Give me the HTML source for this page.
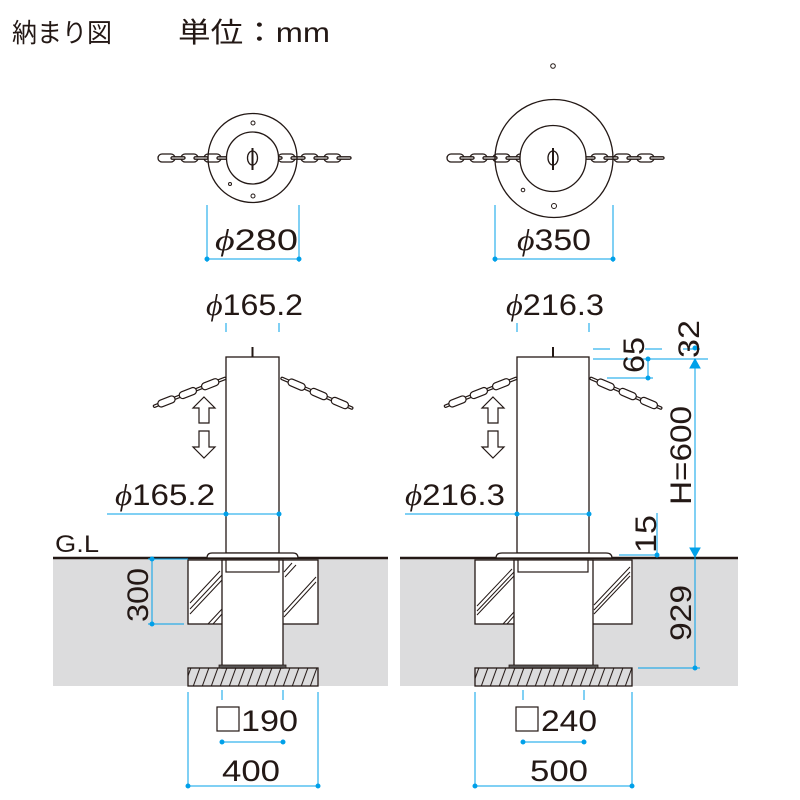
<!DOCTYPE html>
<html><head><meta charset="utf-8"><style>
html,body{margin:0;padding:0;background:#fff}
svg{display:block}
text{font-family:"Liberation Sans","Noto Sans CJK JP",sans-serif;fill:#231815}
</style></head><body>
<svg width="800" height="800" viewBox="0 0 800 800" xmlns="http://www.w3.org/2000/svg">
<defs>
<g id="chainH">
 <g fill="#fff" stroke="#231815" stroke-width="1.3">
  <rect x="0" y="-4" width="17" height="8" rx="4"/>
  <rect x="23" y="-4" width="17" height="8" rx="4"/>
  <rect x="46" y="-4" width="17" height="8" rx="4"/>
  <rect x="69" y="-4" width="17" height="8" rx="4"/>
  <rect x="13" y="-1.2" width="14" height="2.4" rx="1.2"/>
  <rect x="36" y="-1.2" width="14" height="2.4" rx="1.2"/>
  <rect x="59" y="-1.2" width="14" height="2.4" rx="1.2"/>
  <rect x="82" y="-1.2" width="14" height="2.4" rx="1.2"/>
 </g>
</g>
<g id="chainS">
 <g fill="#fff" stroke="#231815" stroke-width="1.2">
  <rect x="0" y="-1.2" width="12" height="2.4" rx="1.2"/>
  <rect x="24" y="-1.2" width="12" height="2.4" rx="1.2"/>
  <rect x="48" y="-1.2" width="12" height="2.4" rx="1.2"/>
  <rect x="68" y="-1.2" width="10" height="2.4" rx="1.2"/>
  <rect x="8" y="-3.5" width="18" height="7" rx="3.5"/>
  <rect x="32" y="-3.5" width="18" height="7" rx="3.5"/>
  <rect x="55" y="-3.5" width="18" height="7" rx="3.5"/>
 </g>
</g>
<pattern id="hatch" width="9" height="18" patternUnits="userSpaceOnUse" patternTransform="skewX(-20)">
 <line x1="2" y1="0" x2="2" y2="18" stroke="#231815" stroke-width="1.1"/>
</pattern>
</defs>

<text x="12" y="42" font-size="26" textLength="100" lengthAdjust="spacingAndGlyphs">納まり図</text>
<text x="178" y="42" font-size="28" textLength="152" lengthAdjust="spacingAndGlyphs">単位：mm</text>

<rect x="53" y="558" width="335" height="128" fill="#dcdcdd"/>
<rect x="400" y="558" width="338" height="128" fill="#dcdcdd"/>
<line x1="53" y1="558" x2="388" y2="558" stroke="#231815" stroke-width="2.5"/>
<line x1="400" y1="558" x2="738" y2="558" stroke="#231815" stroke-width="2.5"/>
<text x="55" y="552" font-size="24" textLength="44" lengthAdjust="spacingAndGlyphs">G.L</text>

<use href="#chainH" x="158" y="158"/>
<use href="#chainH" x="255" y="158"/>
<circle cx="252.5" cy="158" r="44.5" fill="none" stroke="#231815" stroke-width="1.3"/>
<circle cx="252.5" cy="158" r="26" fill="#fff" stroke="#231815" stroke-width="1.3"/>
<ellipse cx="252.5" cy="158" rx="5" ry="7" fill="none" stroke="#231815" stroke-width="1.3"/>
<line x1="252.5" y1="148" x2="252.5" y2="170" stroke="#231815" stroke-width="2"/>
<circle cx="253" cy="123" r="2" fill="none" stroke="#231815"/>
<circle cx="230" cy="184" r="1.5" fill="none" stroke="#231815"/>
<circle cx="253" cy="196" r="2" fill="none" stroke="#231815"/>

<use href="#chainH" x="447" y="158"/>
<use href="#chainH" x="568" y="158"/>
<circle cx="554" cy="158.5" r="59" fill="none" stroke="#231815" stroke-width="1.3"/>
<circle cx="553" cy="158.5" r="33" fill="#fff" stroke="#231815" stroke-width="1.3"/>
<ellipse cx="553" cy="158" rx="5" ry="7" fill="none" stroke="#231815" stroke-width="1.3"/>
<line x1="553" y1="148" x2="553" y2="170" stroke="#231815" stroke-width="2"/>
<circle cx="523" cy="190" r="1.8" fill="none" stroke="#231815"/>
<circle cx="554" cy="206" r="2.5" fill="none" stroke="#231815"/>
<circle cx="553" cy="66" r="2.3" fill="none" stroke="#231815"/>

<g stroke="#00a0e9" stroke-width="1" fill="#00a0e9">
 <line x1="207" y1="205" x2="207" y2="262"/><line x1="299" y1="205" x2="299" y2="262"/>
 <line x1="207" y1="259" x2="299" y2="259"/>
 <circle cx="207" cy="259" r="2"/><circle cx="299" cy="259" r="2"/>
 <line x1="495" y1="205" x2="495" y2="262"/><line x1="613" y1="205" x2="613" y2="262"/>
 <line x1="495" y1="259" x2="613" y2="259"/>
 <circle cx="495" cy="259" r="2"/><circle cx="613" cy="259" r="2"/>
</g>
<text x="215" y="250" font-size="30" textLength="83" lengthAdjust="spacingAndGlyphs"><tspan font-family="Liberation Serif" font-style="italic">ϕ</tspan>280</text>
<text x="517" y="250" font-size="30" textLength="74" lengthAdjust="spacingAndGlyphs"><tspan font-family="Liberation Serif" font-style="italic">ϕ</tspan>350</text>

<use href="#chainS" transform="translate(226,378) rotate(158.5)"/>
<use href="#chainS" transform="translate(281,378) rotate(23)"/>
<line x1="252.5" y1="347" x2="252.5" y2="357" stroke="#231815" stroke-width="2"/>
<rect x="226" y="357" width="53" height="196" fill="#fff" stroke="#231815" stroke-width="1.3"/>
<g fill="#fff" stroke="#231815" stroke-width="1.2">
 <path d="M204 397 L215 408 L209 408 L209 423 L199 423 L199 408 L193 408 Z"/>
 <path d="M204 458 L215 447 L209 447 L209 431 L199 431 L199 447 L193 447 Z"/>
</g>
<rect x="188" y="560" width="130" height="64" fill="#fff" stroke="#231815" stroke-width="1.3"/>
<g stroke="#231815" stroke-width="1">
 <line x1="190" y1="603" x2="220" y2="571"/><line x1="190" y1="609" x2="222" y2="575"/><line x1="190" y1="614" x2="222" y2="580"/>
 <line x1="208" y1="624" x2="222" y2="609"/><line x1="213" y1="624" x2="222" y2="614"/>
 <line x1="284" y1="612" x2="316" y2="577"/><line x1="284" y1="617" x2="316" y2="582"/>
 <line x1="284" y1="572" x2="292" y2="563"/><line x1="285" y1="577" x2="296" y2="565"/>
</g>
<rect x="222" y="560" width="61" height="108" fill="#fff" stroke="#231815" stroke-width="1.3"/>
<rect x="226" y="560" width="53" height="12" fill="#fff" stroke="#231815" stroke-width="1.2"/>
<path d="M207 558 Q207 553 212 553 L293 553 Q298 553 298 558 Z" fill="#fff" stroke="#231815" stroke-width="1.2"/>
<rect x="188" y="668" width="130" height="18" fill="url(#hatch)" stroke="#231815" stroke-width="1.3"/>
<rect x="219" y="665" width="67" height="3" fill="#595757" stroke="#231815" stroke-width="0.8"/>

<use href="#chainS" transform="translate(517,378) rotate(158.5)"/>
<use href="#chainS" transform="translate(590,378) rotate(23)"/>
<line x1="553" y1="347" x2="553" y2="357" stroke="#231815" stroke-width="2"/>
<rect x="517" y="357" width="72" height="196" fill="#fff" stroke="#231815" stroke-width="1.3"/>
<g fill="#fff" stroke="#231815" stroke-width="1.2">
 <path d="M493 397 L504 408 L498 408 L498 423 L488 423 L488 408 L482 408 Z"/>
 <path d="M493 458 L504 447 L498 447 L498 431 L488 431 L488 447 L482 447 Z"/>
</g>
<rect x="475" y="560" width="157" height="64" fill="#fff" stroke="#231815" stroke-width="1.3"/>
<g stroke="#231815" stroke-width="1">
 <line x1="477" y1="606" x2="512" y2="569"/><line x1="477" y1="611" x2="514" y2="572"/><line x1="477" y1="615" x2="514" y2="576"/>
 <line x1="503" y1="624" x2="514" y2="612"/><line x1="507" y1="624" x2="514" y2="616"/>
 <line x1="594" y1="605" x2="630" y2="567"/><line x1="594" y1="610" x2="630" y2="572"/><line x1="594" y1="614" x2="630" y2="576"/>
</g>
<rect x="514" y="560" width="79" height="108" fill="#fff" stroke="#231815" stroke-width="1.3"/>
<rect x="518" y="560" width="70" height="12" fill="#fff" stroke="#231815" stroke-width="1.2"/>
<path d="M496 558 Q496 553 502 553 L606 553 Q612 553 612 558 Z" fill="#fff" stroke="#231815" stroke-width="1.2"/>
<rect x="475" y="668" width="157" height="18" fill="url(#hatch)" stroke="#231815" stroke-width="1.3"/>
<rect x="509" y="665" width="89" height="3" fill="#595757" stroke="#231815" stroke-width="0.8"/>

<g stroke="#00a0e9" stroke-width="1" fill="#00a0e9">
 <line x1="226" y1="323" x2="226" y2="332"/><line x1="279" y1="323" x2="279" y2="332"/>
 <line x1="107" y1="514" x2="279" y2="514"/><circle cx="226" cy="514" r="2"/><circle cx="279" cy="514" r="2"/>
 <line x1="148" y1="559" x2="188" y2="559"/><line x1="148" y1="624" x2="184" y2="624"/>
 <line x1="152" y1="559" x2="152" y2="624"/><circle cx="152" cy="559" r="2"/><circle cx="152" cy="624" r="2"/>
 <line x1="222" y1="690" x2="222" y2="700"/><line x1="283" y1="690" x2="283" y2="700"/>
 <line x1="222" y1="742" x2="283" y2="742"/><circle cx="222" cy="742" r="2"/><circle cx="283" cy="742" r="2"/>
 <line x1="188" y1="692" x2="188" y2="788"/><line x1="318" y1="692" x2="318" y2="788"/>
 <line x1="188" y1="786" x2="318" y2="786"/><circle cx="188" cy="786" r="2"/><circle cx="318" cy="786" r="2"/>

 <line x1="517" y1="323" x2="517" y2="332"/><line x1="589" y1="323" x2="589" y2="332"/>
 <line x1="405" y1="514" x2="589" y2="514"/><circle cx="517" cy="514" r="2"/><circle cx="589" cy="514" r="2"/>
 <line x1="523" y1="690" x2="523" y2="700"/><line x1="584" y1="690" x2="584" y2="700"/>
 <line x1="523" y1="742" x2="584" y2="742"/><circle cx="523" cy="742" r="2"/><circle cx="584" cy="742" r="2"/>
 <line x1="475" y1="692" x2="475" y2="788"/><line x1="632" y1="692" x2="632" y2="788"/>
 <line x1="475" y1="786" x2="632" y2="786"/><circle cx="475" cy="786" r="2"/><circle cx="632" cy="786" r="2"/>

 <line x1="593" y1="349" x2="610" y2="349"/><line x1="645" y1="349" x2="662" y2="349"/><line x1="683" y1="349" x2="700" y2="349"/>
 <circle cx="695" cy="348" r="2"/>
 <line x1="593" y1="359" x2="708" y2="359"/>
 <line x1="648" y1="359" x2="648" y2="378"/><circle cx="648" cy="359" r="2"/>
 <line x1="607" y1="378" x2="653" y2="378"/><circle cx="648" cy="378" r="2"/>
 <line x1="695" y1="362" x2="695" y2="668"/>
 <path d="M695 359 L690 368 L700 368 Z"/><path d="M695 557 L690 548 L700 548 Z"/>
 <line x1="657" y1="513" x2="657" y2="556"/><line x1="619" y1="555" x2="657" y2="555"/><circle cx="657" cy="555" r="2"/>
 <line x1="638" y1="668" x2="700" y2="668"/><circle cx="695" cy="668" r="2"/>
</g>

<text x="206" y="315" font-size="30" textLength="97" lengthAdjust="spacingAndGlyphs"><tspan font-family="Liberation Serif" font-style="italic">ϕ</tspan>165.2</text>
<text x="506" y="315" font-size="30" textLength="98" lengthAdjust="spacingAndGlyphs"><tspan font-family="Liberation Serif" font-style="italic">ϕ</tspan>216.3</text>
<text x="115" y="505" font-size="30" textLength="100" lengthAdjust="spacingAndGlyphs"><tspan font-family="Liberation Serif" font-style="italic">ϕ</tspan>165.2</text>
<text x="405" y="505" font-size="30" textLength="100" lengthAdjust="spacingAndGlyphs"><tspan font-family="Liberation Serif" font-style="italic">ϕ</tspan>216.3</text>
<text transform="translate(148,622) rotate(-90)" font-size="30" textLength="54" lengthAdjust="spacingAndGlyphs">300</text>
<text transform="translate(699,358) rotate(-90)" font-size="30" textLength="38" lengthAdjust="spacingAndGlyphs">32</text>
<text transform="translate(644,373) rotate(-90)" font-size="30" textLength="36" lengthAdjust="spacingAndGlyphs">65</text>
<text transform="translate(691,505) rotate(-90)" font-size="30" textLength="99" lengthAdjust="spacingAndGlyphs">H=600</text>
<text transform="translate(656,553) rotate(-90)" font-size="30" textLength="38" lengthAdjust="spacingAndGlyphs">15</text>
<text transform="translate(691,641) rotate(-90)" font-size="30" textLength="56" lengthAdjust="spacingAndGlyphs">929</text>

<rect x="217" y="707" width="22" height="24" fill="none" stroke="#231815" stroke-width="1.2"/>
<text x="241" y="731" font-size="30" textLength="57" lengthAdjust="spacingAndGlyphs">190</text>
<rect x="516" y="707" width="22" height="24" fill="none" stroke="#231815" stroke-width="1.2"/>
<text x="541" y="731" font-size="30" textLength="56" lengthAdjust="spacingAndGlyphs">240</text>
<text x="222" y="781" font-size="30" textLength="58" lengthAdjust="spacingAndGlyphs">400</text>
<text x="530" y="781" font-size="30" textLength="58" lengthAdjust="spacingAndGlyphs">500</text>
</svg>
</body></html>
